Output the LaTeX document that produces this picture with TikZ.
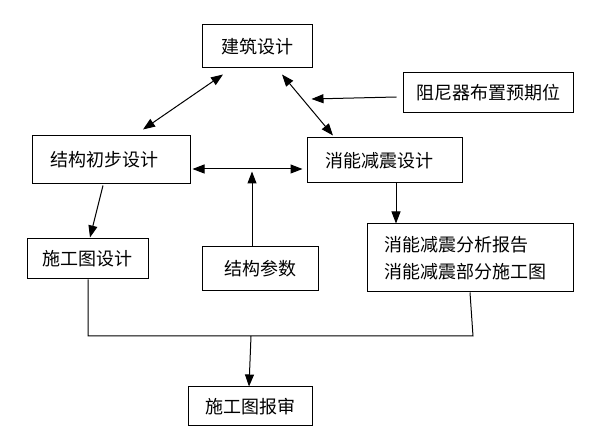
\documentclass[tikz,border=0pt]{standalone}
\usepackage{fontspec}
\newfontfamily\cjk{Noto Sans CJK SC}
\usetikzlibrary{arrows.meta}
\begin{document}
\begin{tikzpicture}[x=1pt,y=-1pt,
  box/.style={draw,line width=1pt,inner sep=0pt,minimum width=#1,font=\cjk\fontsize{18}{22}\selectfont},
  conn/.style={line width=1pt},
  tip/.style={},
  arr/.style={conn,-{Triangle[length=12pt,width=9pt]}},
  darr/.style={conn,{Triangle[length=12pt,width=9pt]}-{Triangle[length=12pt,width=9pt]}}]
\useasboundingbox (0,0) rectangle (598,446);
\fill[white] (0,0) rectangle (598,446);
\node[box=110pt,minimum height=43pt] (jz) at (257,46.5) {建筑设计};
\node[box=170pt,minimum height=40pt] (zn) at (488,93) {阻尼器布置预期位};
\node[box=158pt,minimum height=48pt] (cb) at (111,160) {\hspace*{-14pt}结构初步设计};
\node[box=155pt,minimum height=45pt] (xn) at (384.5,160.5) {\hspace*{-10pt}消能减震设计};
\node[box=121pt,minimum height=40pt] (sg) at (87.5,259) {施工图设计};
\node[box=116pt,minimum height=44pt] (cs) at (260,269) {结构参数};
\node[box=206pt,minimum height=68pt,align=left,font=\cjk\fontsize{18}{27}\selectfont] (fx) at (470,258) {消能减震分析报告\\消能减震部分施工图\hspace*{10pt}};
\node[box=124pt,minimum height=39pt] (bs) at (250,406.5) {施工图报审};
% connectors
\draw[darr] ([xshift=32pt,yshift=6pt]cb.north) -- ([xshift=-34pt,yshift=-6pt]jz.south);
\draw[darr] ([xshift=25pt,yshift=-6pt]jz.south) -- ([xshift=-51.5pt,yshift=2pt]xn.north);
\draw[arr] ([xshift=-6pt,yshift=-4pt]zn.west) -- ([xshift=-91pt,yshift=-6pt]zn.west);
\draw[darr] ([xshift=2pt,yshift=-9pt]cb.east) -- ([xshift=-4pt,yshift=-8.5pt]xn.west);
\draw[arr] ([xshift=-8pt]cs.north) -- ++(0,-75);
\draw[arr] ([xshift=-8pt,yshift=-1pt]cb.south) -- ([xshift=2.5pt,yshift=1pt]sg.north);
\draw[arr] ([xshift=11.5pt]xn.south) -- ([xshift=-74pt]fx.north);
\coordinate (j) at (251,336);
\draw[conn] ([xshift=0.5pt]sg.south) |- (j) -- (473,336) -- (fx.south);
\draw[arr] (j) -- ([xshift=-1pt]bs.north);
\end{tikzpicture}
\end{document}
